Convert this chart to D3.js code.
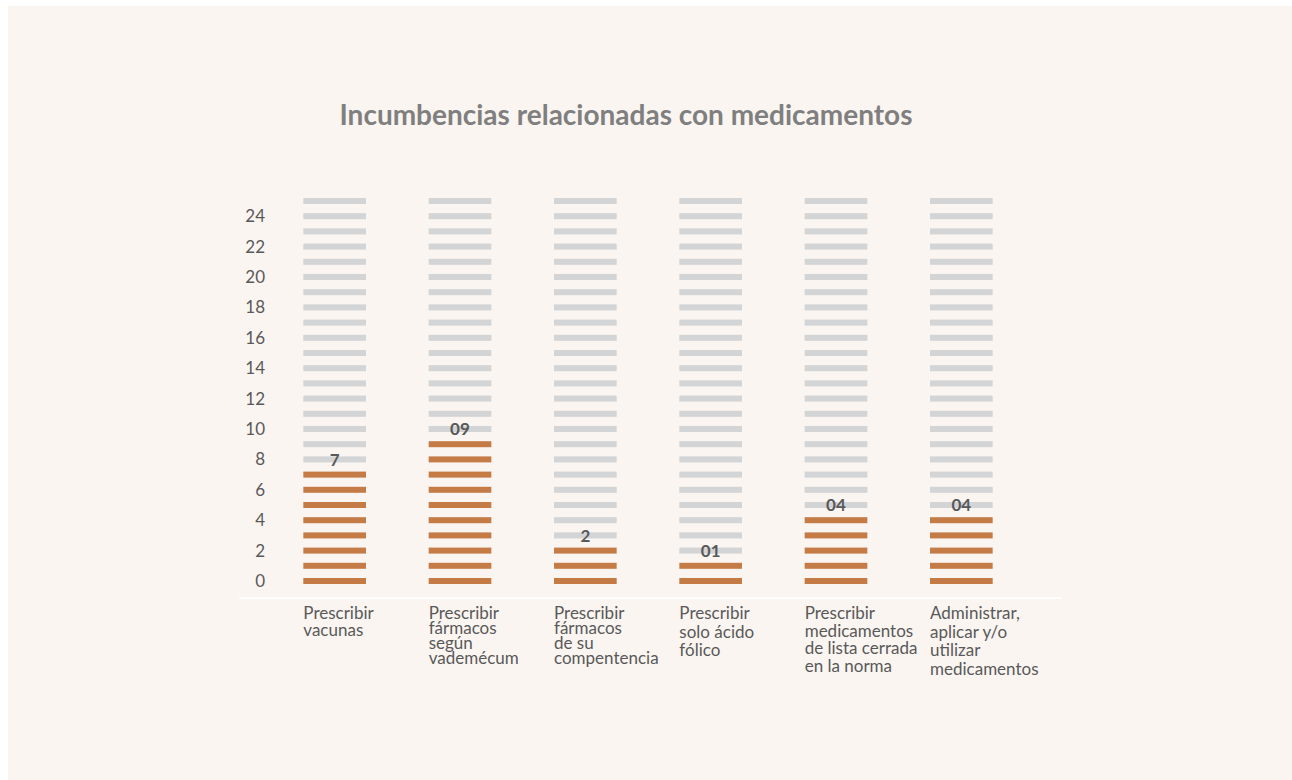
<!DOCTYPE html>
<html>
<head>
<meta charset="utf-8">
<script src="https://cdn.jsdelivr.net/npm/d3@7"></script>
<style>
  body { margin: 0; background: #ffffff; }
  svg { display: block; }
</style>
</head>
<body>
<div id="chart"></div>
<script>
// data
const categories = [
  ["Prescribir", "vacunas"],
  ["Prescribir", "fármacos", "según", "vademécum"],
  ["Prescribir", "fármacos", "de su", "compentencia"],
  ["Prescribir", "solo ácido", "fólico"],
  ["Prescribir", "medicamentos", "de lista cerrada", "en la norma"],
  ["Administrar,", "aplicar y/o", "utilizar", "medicamentos"]
];
const values = [7, 9, 2, 1, 4, 4];
const valueLabels = ["7", "09", "2", "01", "04", "04"];
const yTicks = [0, 2, 4, 6, 8, 10, 12, 14, 16, 18, 20, 22, 24];
const yMax = 25;
const title = "Incumbencias relacionadas con medicamentos";

// line spacing of the category labels differs a little per column
const labelLeading = [17, 15, 15, 18.5, 17.5, 18.5];

const width = 1292;
const height = 780;

const svg = d3
  .select("#chart")
  .append("svg")
  .attr("width", width)
  .attr("height", height);

// panel background
svg
  .append("rect")
  .attr("x", 8)
  .attr("y", 6)
  .attr("width", width - 8)
  .attr("height", height - 6)
  .attr("fill", "#faf5f1");

// scales
const xScale = d3
  .scaleBand()
  .domain(d3.range(categories.length))
  .range([272, 1024])
  .paddingInner(0.5)
  .paddingOuter(0.25);

const yScale = d3.scaleLinear().domain([0, yMax]).range([581, 201]);

const stripes = d3.range(0, yMax + 1);
const stripeH = 6;

// title
svg
  .append("text")
  .attr("x", 626)
  .attr("y", 125)
  .attr("text-anchor", "middle")
  .style("font-family", "Lato, sans-serif")
  .style("font-weight", "bold")
  .style("font-size", "28px")
  .attr("fill", "#7f7f7f")
  .text(title);

// y axis (labels only)
const yAxis = d3.axisLeft(yScale).tickValues(yTicks).tickSize(0).tickPadding(0);
const yG = svg.append("g").attr("transform", "translate(265,0)").call(yAxis);
yG.select(".domain").remove();
yG.selectAll("text")
  .style("font-family", "Lato, sans-serif")
  .style("font-size", "17px")
  .attr("fill", "#595959");

// columns of stripes
const cols = svg
  .selectAll("g.col")
  .data(values)
  .enter()
  .append("g")
  .attr("class", "col")
  .attr("transform", (d, i) => `translate(${xScale(i)},0)`);

cols
  .selectAll("rect")
  .data((d) => stripes.map((s) => ({ s, on: s <= d })))
  .enter()
  .append("rect")
  .attr("x", 0)
  .attr("y", (d) => yScale(d.s) - stripeH / 2)
  .attr("width", xScale.bandwidth())
  .attr("height", stripeH)
  .attr("fill", (d) => (d.on ? "#c47b46" : "#d3d4d6"));

// value labels sit on the first grey stripe
cols
  .append("text")
  .attr("x", xScale.bandwidth() / 2)
  .attr("y", (d) => yScale(d + 1))
  .attr("dy", "0.36em")
  .attr("text-anchor", "middle")
  .style("font-family", "Lato, sans-serif")
  .style("font-weight", "bold")
  .style("font-size", "17px")
  .attr("fill", "#595959")
  .text((d, i) => valueLabels[i]);

// baseline
svg
  .append("line")
  .attr("x1", 239)
  .attr("x2", 1062)
  .attr("y1", 598)
  .attr("y2", 598)
  .attr("stroke", "#ffffff")
  .attr("stroke-width", 1.5);

// category labels
const labels = svg
  .selectAll("text.cat")
  .data(categories)
  .enter()
  .append("text")
  .attr("class", "cat")
  .attr("x", (d, i) => xScale(i))
  .attr("y", 619)
  .style("font-family", "Lato, sans-serif")
  .style("font-size", "17px")
  .attr("fill", "#595959");

labels
  .selectAll("tspan")
  .data((d, i) => d.map((t, k) => ({ t, k, lead: labelLeading[i] })))
  .enter()
  .append("tspan")
  .attr("x", function () {
    return d3.select(this.parentNode).attr("x");
  })
  .attr("dy", (d) => (d.k === 0 ? 0 : d.lead))
  .text((d) => d.t);
</script>
</body>
</html>
